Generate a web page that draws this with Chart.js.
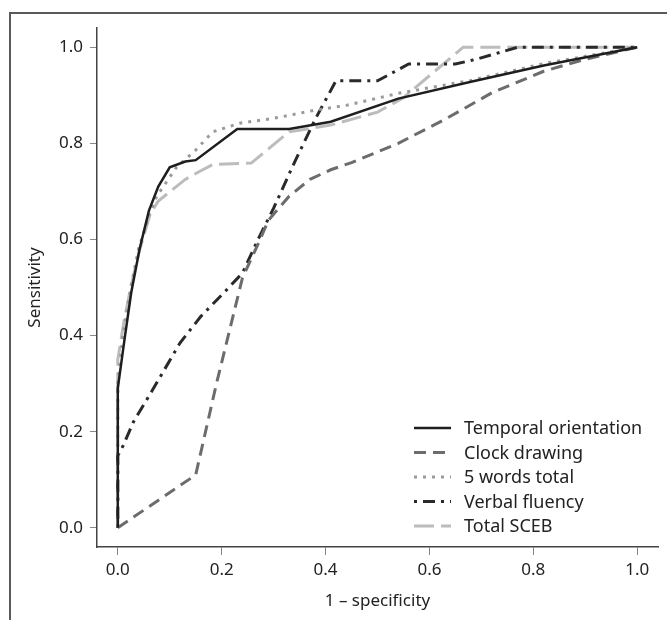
<!DOCTYPE html>
<html>
<head>
<meta charset="utf-8">
<script src="https://cdn.jsdelivr.net/npm/chart.js@4.4.1/dist/chart.umd.min.js"></script>
<style>
  body { margin: 0; background: #fff; }
  #wrap { position: relative; width: 667px; height: 620px; }
  #frame { position: absolute; left: 9px; top: 12px; right: 0; bottom: 0;
           border-top: 2px solid #5a5a5a; border-left: 2px solid #5a5a5a; }
  canvas { position: absolute; left: 0; top: 0; }
</style>
</head>
<body>
<div id="wrap">
  <div id="frame"></div>
  <canvas id="rocChart" width="667" height="620"></canvas>
</div>
<script>
// Tick labels
const xTicks = [0, 0.2, 0.4, 0.6, 0.8, 1.0];
const yTicks = [0, 0.2, 0.4, 0.6, 0.8, 1.0];

const seriesNames = ['Temporal orientation', 'Clock drawing', '5 words total', 'Verbal fluency', 'Total SCEB'];

// ROC points: x = 1 - specificity, y = sensitivity
const temporalX = [0, 0, 0.014, 0.026, 0.042, 0.06, 0.078, 0.1, 0.13, 0.15, 0.23, 0.33, 0.41, 0.54, 0.68, 0.82, 1];
const temporalY = [0, 0.29, 0.40, 0.49, 0.58, 0.66, 0.71, 0.75, 0.762, 0.765, 0.83, 0.83, 0.845, 0.893, 0.928, 0.962, 1];

const clockX = [0, 0.15, 0.19, 0.24, 0.27, 0.29, 0.33, 0.37, 0.41, 0.45, 0.54, 0.63, 0.72, 0.82, 0.9, 1];
const clockY = [0, 0.11, 0.30, 0.52, 0.59, 0.64, 0.69, 0.725, 0.745, 0.76, 0.80, 0.85, 0.905, 0.95, 0.975, 1];

const wordsX = [0, 0, 0.01, 0.025, 0.04, 0.062, 0.075, 0.113, 0.15, 0.183, 0.235, 0.3, 0.38, 0.44, 0.54, 0.68, 0.82, 1];
const wordsY = [0, 0.30, 0.40, 0.50, 0.58, 0.656, 0.69, 0.75, 0.786, 0.824, 0.842, 0.852, 0.869, 0.879, 0.904, 0.931, 0.966, 1];

const fluencyX = [0, 0, 0.01, 0.03, 0.066, 0.12, 0.16, 0.205, 0.24, 0.27, 0.3, 0.34, 0.38, 0.42, 0.5, 0.56, 0.65, 0.69, 0.77, 1];
const fluencyY = [0, 0.15, 0.17, 0.22, 0.285, 0.385, 0.44, 0.49, 0.53, 0.60, 0.665, 0.76, 0.85, 0.93, 0.93, 0.965, 0.965, 0.975, 1, 1];

const scebX = [0, 0, 0.012, 0.025, 0.04, 0.062, 0.078, 0.13, 0.158, 0.183, 0.257, 0.33, 0.41, 0.5, 0.55, 0.665, 1];
const scebY = [0, 0.35, 0.43, 0.50, 0.57, 0.652, 0.68, 0.725, 0.742, 0.756, 0.759, 0.824, 0.838, 0.865, 0.895, 1, 1];

function toPoints(xs, ys) {
    return xs.map((x, i) => ({ x: x, y: ys[i] }));
}

const FONT = "'Noto Sans', 'Open Sans', sans-serif";

// Legend drawn inside the plot, lower right
const insideLegend = {
    id: 'insideLegend',
    afterDraw(chart) {
        const c = chart.ctx;
        c.save();
        c.font = '18px ' + FONT;
        c.textBaseline = 'middle';
        c.fillStyle = '#222';
        chart.data.datasets.forEach((ds, i) => {
            const y = 428 + i * 24.5;
            c.beginPath();
            c.strokeStyle = ds.borderColor;
            c.lineWidth = ds.borderWidth;
            c.setLineDash(ds.borderDash || []);
            c.moveTo(414, y);
            c.lineTo(451, y);
            c.stroke();
            c.setLineDash([]);
            c.fillText(ds.label, 464, y + 1);
        });
        c.restore();
    }
};

function initChart() {
    const ctx = document.getElementById('rocChart');
    new Chart(ctx, {
        type: 'line',
        data: {
            datasets: [
                { label: seriesNames[0], data: toPoints(temporalX, temporalY), borderColor: '#1e1e1e', borderWidth: 2.5 },
                { label: seriesNames[1], data: toPoints(clockX, clockY), borderColor: '#6c6c6c', borderWidth: 3, borderDash: [12, 7] },
                { label: seriesNames[2], data: toPoints(wordsX, wordsY), borderColor: '#9a9a9a', borderWidth: 3, borderDash: [3, 6] },
                { label: seriesNames[3], data: toPoints(fluencyX, fluencyY), borderColor: '#2a2a2a', borderWidth: 3, borderDash: [3, 6, 12, 6] },
                { label: seriesNames[4], data: toPoints(scebX, scebY), borderColor: '#bcbcbc', borderWidth: 3, borderDash: [20, 7] }
            ]
        },
        options: {
            responsive: false,
            animation: false,
            layout: { padding: { left: 0, top: 28, right: 9, bottom: 0 } },
            elements: {
                point: { radius: 0 },
                line: { tension: 0, fill: false, borderCapStyle: 'butt' }
            },
            scales: {
                x: {
                    type: 'linear',
                    min: -0.04,
                    max: 1.04,
                    afterBuildTicks: (scale) => { scale.ticks = xTicks.map(v => ({ value: v })); },
                    afterFit: (scale) => { scale.height = 73; },
                    ticks: {
                        callback: (v) => v.toFixed(1),
                        color: '#222',
                        font: { family: FONT, size: 17 },
                        padding: 5,
                        maxRotation: 0
                    },
                    grid: { display: true, drawOnChartArea: false, tickLength: 8, color: '#888', lineWidth: 1 },
                    border: { display: true, color: '#444', width: 1.5 },
                    title: {
                        display: true,
                        text: '1 – specificity',
                        color: '#222',
                        font: { family: FONT, size: 17 },
                        padding: { top: 0, bottom: 9 }
                    }
                },
                y: {
                    type: 'linear',
                    min: -0.04,
                    max: 1.04,
                    afterBuildTicks: (scale) => { scale.ticks = yTicks.map(v => ({ value: v })); },
                    afterFit: (scale) => { scale.width = 97; },
                    ticks: {
                        callback: (v) => v.toFixed(1),
                        color: '#222',
                        font: { family: FONT, size: 17 },
                        padding: 7
                    },
                    grid: { display: true, drawOnChartArea: false, tickLength: 7, color: '#888', lineWidth: 1 },
                    border: { display: true, color: '#444', width: 1.5 },
                    title: {
                        display: true,
                        text: 'Sensitivity',
                        color: '#222',
                        font: { family: FONT, size: 17 },
                        padding: { top: 25, bottom: 0 }
                    }
                }
            },
            plugins: {
                legend: { display: false },
                tooltip: { enabled: false }
            }
        },
        plugins: [insideLegend]
    });
}

document.addEventListener('DOMContentLoaded', initChart);
</script>
</body>
</html>
